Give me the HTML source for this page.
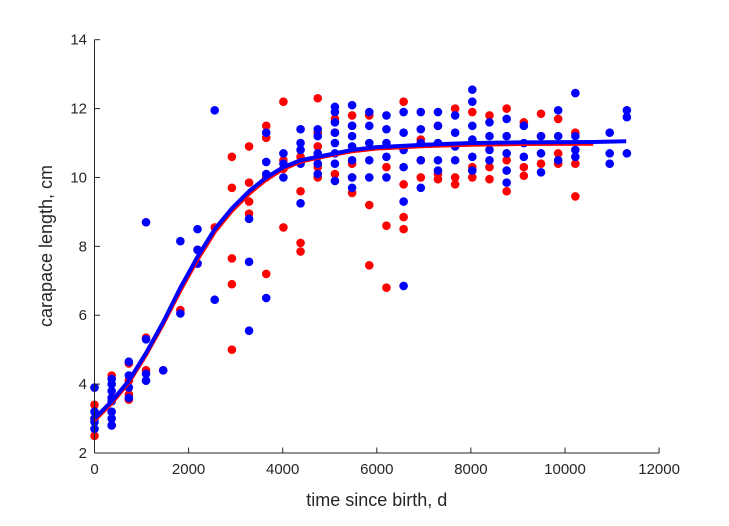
<!DOCTYPE html>
<html><head><meta charset="utf-8"><style>
body{margin:0;background:#fff;}
svg text{font-family:"Liberation Sans",sans-serif;fill:#262626;}
</style></head><body>
<svg id="chart" width="729" height="521" xmlns="http://www.w3.org/2000/svg">
<g id="marks"></g>
<g id="axes"></g>
</svg>
<script>
const xTicks=[0,2000,4000,6000,8000,10000,12000];
const yTicks=[2,4,6,8,10,12,14];
const times=[0,365,730,1095,1460,1825,2190,2555,2920,3285,3650,4015,4380,4745,5110,5475,5840,6205,6570,6935,7300,7665,8030,8395,8760,9125,9490,9855,10220,10950,11315];
const redVals=[[2.5,3.4,3.9,3.0],[4.25,2.8,3.6],[4.6,3.7,3.55,4.1],[8.7,5.35,4.4],[4.4],[6.15],[7.5,7.9],[8.55],[10.6,9.7,7.65,6.9,5.0],[10.9,9.85,9.3,8.95],[11.5,11.15,10.0,7.2],[12.2,10.5,10.25,8.55],[10.6,9.6,8.1,7.85],[12.3,11.3,10.9,10.6,10.3,10.0],[11.7,11.3,10.1],[11.8,11.5,10.4,10.0,9.55],[11.8,9.2,7.45],[10.3,8.6,6.8],[12.2,8.85,8.5,9.8],[11.1,10.5,10.0],[11.5,10.1,9.95],[12.0,10.0,9.8],[11.9,10.3,10.0],[11.8,10.3,9.95],[12.0,10.5,9.6],[11.6,10.3,10.05],[11.85,11.2,10.4],[11.7,10.7,10.4],[11.3,10.4,9.45],[],[]];
const blueVals=[[3.9,3.2,2.7,2.9,3.0],[4.15,4.0,3.8,3.5,3.2,3.0,2.8,3.6],[4.65,4.25,3.9,3.6],[8.7,5.3,4.3,4.1],[4.4],[6.05,8.15],[8.5,7.9,7.5],[11.95,6.45],[],[8.8,7.55,5.55],[11.3,10.45,10.1,6.5],[10.7,10.4,10.0],[11.4,11.0,10.8,10.4,9.25],[11.4,11.2,10.7,10.4,10.1],[12.05,11.9,11.6,11.3,11.0,10.7,10.4,9.9],[12.1,11.5,11.2,10.9,10.5,10.0,9.7],[11.9,11.5,11.0,10.5,10.0],[11.8,11.4,11.0,10.6,10.0],[11.9,11.3,10.8,10.3,9.3,6.85],[11.9,11.4,11.0,10.5,9.7],[11.9,11.5,11.0,10.5,10.2],[11.8,11.3,10.9,10.5],[12.55,12.2,11.5,11.1,10.6,10.2],[11.6,11.2,10.8,10.5],[11.7,11.2,10.7,10.2,9.85],[11.5,11.0,10.6],[11.2,10.7,10.15],[11.95,11.2,10.5],[12.45,11.2,10.8,10.6],[11.3,10.7,10.4],[11.95,11.75,10.7]];
const curveT=[0,365,730,1095,1460,1825,2190,2555,2920,3285,3650,4015,4380,4745,5110,5475,6000,7000,8000,9000,10600,11300];
const blueCurve=[3.0,3.5,4.1,4.9,5.8,6.8,7.7,8.5,9.1,9.6,10.0,10.3,10.5,10.6,10.7,10.8,10.88,10.95,11.0,11.02,11.03,11.05];
const redCurve=[2.95,3.45,4.05,4.85,5.75,6.72,7.62,8.42,9.03,9.53,9.94,10.25,10.46,10.57,10.67,10.76,10.84,10.91,10.95,10.97,10.98];
const X=t=>94.5+(t/12000)*564.6;
const Y=v=>453-(v-2)/12*413.3;
const NS='http://www.w3.org/2000/svg';
const marks=document.getElementById('marks'),axes=document.getElementById('axes');
function dots(vals,color,name){vals.forEach((col,i)=>col.forEach(v=>{const c=document.createElementNS(NS,'circle');c.setAttribute('cx',X(times[i]));c.setAttribute('cy',Y(v));c.setAttribute('r',4.3);c.setAttribute('fill',color);


marks.appendChild(c);}));}
function curve(vals,color,name){const p=vals.map((v,i)=>X(curveT[i])+','+Y(v)).join(' ');const l=document.createElementNS(NS,'polyline');l.setAttribute('points',p);l.setAttribute('fill','none');l.setAttribute('stroke',color);l.setAttribute('stroke-width',4);l.setAttribute('stroke-linejoin','round');


marks.appendChild(l);}
dots(redVals,'#ff0000','red-point');
dots(blueVals,'#0000ff','blue-point');
curve(redCurve,'#ff0000','red-fit-curve');
curve(blueCurve,'#0000ff','blue-fit-curve');
let s='<line x1="94.5" y1="453" x2="659.1" y2="453" stroke="#262626"/><line x1="94.5" y1="39.7" x2="94.5" y2="453" stroke="#262626"/>';
xTicks.forEach(t=>{s+=`<line x1="${X(t)}" y1="453" x2="${X(t)}" y2="447.5" stroke="#262626"/><text x="${X(t)}" y="474" font-size="15" text-anchor="middle">${t}</text>`;});
yTicks.forEach(v=>{s+=`<line x1="94.5" y1="${Y(v)}" x2="100" y2="${Y(v)}" stroke="#262626"/><text x="87" y="${Y(v)+5}" font-size="15" text-anchor="end">${v}</text>`;});
s+='<text x="376.8" y="506" font-size="18" text-anchor="middle">time since birth, d</text>';
s+='<text transform="translate(52,246) rotate(-90)" font-size="18" text-anchor="middle">carapace length, cm</text>';
axes.innerHTML=s;
</script>
</body></html>
